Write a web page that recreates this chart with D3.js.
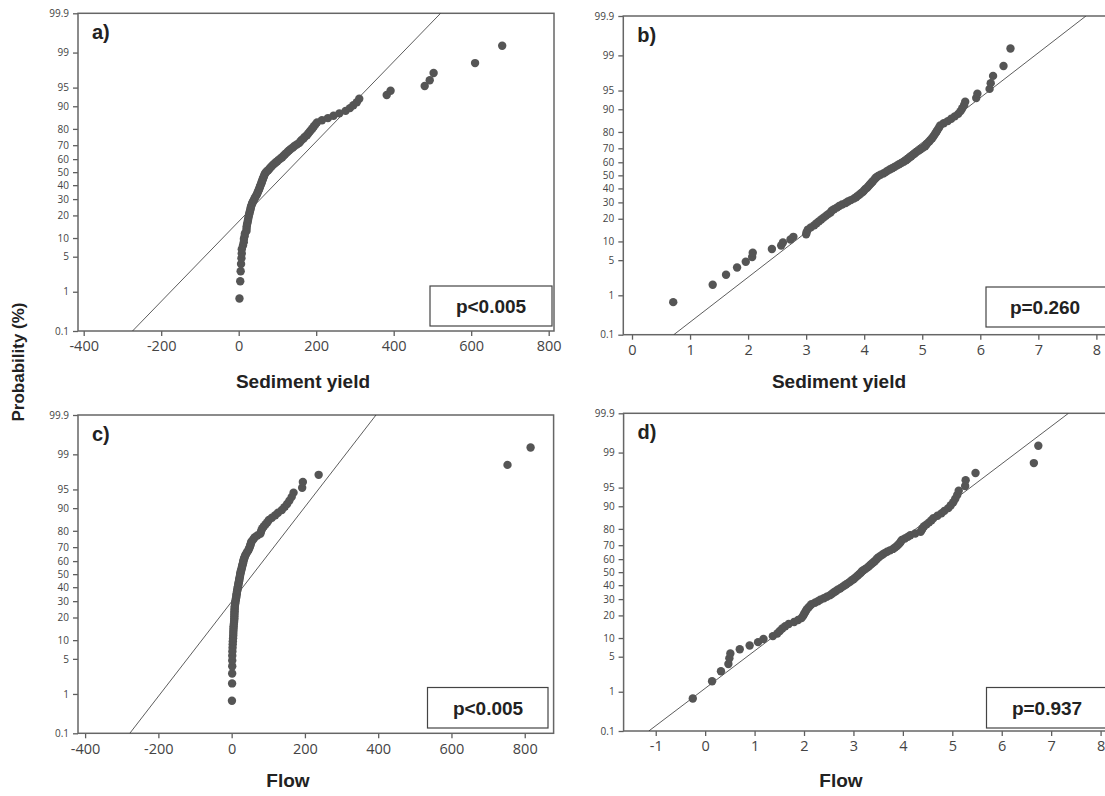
<!DOCTYPE html>
<meta charset="utf-8">
<style>
    body {
        margin: 0;
        background: #fff;
    }
    svg {
        display: block;
    }
    .axis path {
        display: none;
    }
    .axis line {
        stroke: #5e5e5e;
        stroke-width: 1.3;
    }
    .axis text {
        fill: #444;
        font-family: "Open Sans", sans-serif;
    }
    .frame {
        fill: none;
        stroke: #666;
        stroke-width: 1.5;
    }
    .title {
        font-family: "Liberation Sans", Arial, sans-serif;
        font-weight: bold;
        fill: #222;
    }
</style>

<body>
<script src="https://cdnjs.cloudflare.com/ajax/libs/d3/7.8.5/d3.min.js"></script>
<script>
    // probability axis ticks (%)
    var probTicks = [0.1, 1, 5, 10, 20, 30, 40, 50, 60, 70, 80, 90, 95, 99, 99.9];

    // sorted samples (100 values each)
    var sedimentYield = [2.0, 4.0, 5.1, 6.1, 7.1, 7.9, 8.0, 11.1, 13.1, 13.5,
        15.3, 16.1, 20.1, 20.3, 20.7, 21.8, 23.1, 24.0, 25.0, 26.0,
        27.1, 28.2, 29.4, 30.6, 31.2, 32.5, 34.1, 35.5, 37.3, 39.6,
        41.3, 43.4, 45.6, 47.5, 48.9, 50.4, 51.9, 53.5, 54.6, 55.7,
        57.4, 58.6, 59.7, 60.9, 62.2, 63.4, 64.7, 66.0, 67.4, 69.4,
        72.2, 76.0, 79.0, 81.5, 84.8, 88.2, 91.8, 95.6, 99.5, 103.5,
        107.8, 112.2, 115.6, 119.1, 122.7, 126.5, 130.3, 134.3, 139.8, 144.0,
        149.9, 156.0, 159.2, 162.4, 167.3, 170.7, 176.0, 179.5, 183.1, 186.8,
        190.6, 194.4, 198.3, 202.3, 214.9, 230.4, 244.7, 259.8, 275.9, 287.1,
        295.9, 304.9, 311.1, 382, 392, 480, 493, 503, 610, 680];

    var logSedimentYield = [0.71, 1.39, 1.62, 1.81, 1.96, 2.07, 2.08, 2.41, 2.57, 2.60,
        2.73, 2.78, 3.00, 3.01, 3.03, 3.08, 3.14, 3.18, 3.22, 3.26,
        3.30, 3.34, 3.38, 3.42, 3.44, 3.48, 3.53, 3.57, 3.62, 3.68,
        3.72, 3.77, 3.82, 3.86, 3.89, 3.92, 3.95, 3.98, 4.00, 4.02,
        4.05, 4.07, 4.09, 4.11, 4.13, 4.15, 4.17, 4.19, 4.21, 4.24,
        4.28, 4.33, 4.37, 4.40, 4.44, 4.48, 4.52, 4.56, 4.60, 4.64,
        4.68, 4.72, 4.75, 4.78, 4.81, 4.84, 4.87, 4.90, 4.94, 4.97,
        5.01, 5.05, 5.07, 5.09, 5.12, 5.14, 5.17, 5.19, 5.21, 5.23,
        5.25, 5.27, 5.29, 5.31, 5.37, 5.44, 5.50, 5.56, 5.62, 5.66,
        5.69, 5.72, 5.74, 5.93, 5.95, 6.16, 6.18, 6.22, 6.40, 6.52];

    var flow = [0.8, 1.2, 1.4, 1.6, 1.6, 1.7, 2.0, 2.5, 2.9, 3.3,
        3.9, 4.3, 4.5, 4.8, 5.1, 5.4, 6.1, 6.6, 7.0, 7.2,
        7.4, 7.5, 7.7, 7.9, 8.1, 8.3, 8.6, 9.2, 9.8, 10.3,
        11.0, 11.7, 12.4, 12.9, 13.5, 14.0, 14.6, 15.3, 16.0, 16.6,
        17.3, 18.0, 18.7, 19.3, 20.1, 20.7, 21.3, 22.0, 22.7, 23.3,
        23.8, 24.5, 25.5, 26.6, 27.4, 28.2, 29.1, 30.0, 30.9, 31.8,
        32.5, 33.5, 34.8, 36.2, 37.7, 39.7, 42.1, 44.7, 46.5, 48.4,
        49.9, 51.4, 52.5, 53.5, 56.8, 60.3, 63.4, 70.1, 78.3, 79.8,
        81.5, 83.9, 88.2, 92.8, 97.5, 101.5, 109.9, 119.1, 126.5, 137.0,
        144.0, 151.4, 157.6, 164.0, 169.0, 192.5, 194.4, 237.5, 753, 816];

    var logFlow = [-0.25, 0.14, 0.32, 0.47, 0.49, 0.51, 0.70, 0.90, 1.07, 1.18,
        1.37, 1.46, 1.51, 1.56, 1.62, 1.69, 1.80, 1.88, 1.95, 1.98,
        2.00, 2.02, 2.04, 2.06, 2.09, 2.12, 2.15, 2.22, 2.28, 2.33,
        2.40, 2.46, 2.52, 2.56, 2.60, 2.64, 2.68, 2.73, 2.77, 2.81,
        2.85, 2.89, 2.93, 2.96, 3.00, 3.03, 3.06, 3.09, 3.12, 3.15,
        3.17, 3.20, 3.24, 3.28, 3.31, 3.34, 3.37, 3.40, 3.43, 3.46,
        3.48, 3.51, 3.55, 3.59, 3.63, 3.68, 3.74, 3.80, 3.84, 3.88,
        3.91, 3.94, 3.96, 3.98, 4.04, 4.10, 4.15, 4.25, 4.36, 4.38,
        4.40, 4.43, 4.48, 4.53, 4.58, 4.62, 4.70, 4.78, 4.84, 4.92,
        4.97, 5.02, 5.06, 5.10, 5.13, 5.26, 5.27, 5.47, 6.65, 6.74];

    // fitted normal line: x at 0.1% and at 99.9%
    var fitLow = [-274, 0.72, -278, -1.14];
    var fitHigh = [521, 7.82, 394, 7.35];

    var pLabels = ["p<0.005", "p=0.260", "p<0.005", "p=0.937"];
    var panelLetters = ["a)", "b)", "c)", "d)"];
    var xTitles = ["Sediment yield", "Sediment yield", "Flow", "Flow"];
    var xTicksRaw = [-400, -200, 0, 200, 400, 600, 800];
    var xTicksLogSed = [0, 1, 2, 3, 4, 5, 6, 7, 8];
    var xTicksLogFlow = [-1, 0, 1, 2, 3, 4, 5, 6, 7, 8];

    // inverse normal cdf (Acklam)
    function probit(p) {
        var a = [-39.6968302866538, 220.946098424521, -275.928510446969, 138.357751867269, -30.6647980661472, 2.50662827745924],
            b = [-54.4760987982241, 161.585836858041, -155.698979859887, 66.8013118877197, -13.2806815528857],
            c = [-0.00778489400243029, -0.322396458041136, -2.40075827716184, -2.54973253934373, 4.37466414146497, 2.93816398269878],
            d = [0.00778469570904146, 0.32246712907004, 2.445134137143, 3.75440866190742],
            q, r;
        if (p < 0.02425) {
            q = Math.sqrt(-2 * Math.log(p));
            return (((((c[0] * q + c[1]) * q + c[2]) * q + c[3]) * q + c[4]) * q + c[5]) /
                ((((d[0] * q + d[1]) * q + d[2]) * q + d[3]) * q + 1);
        }
        if (p > 1 - 0.02425) return -probit(1 - p);
        q = p - 0.5;
        r = q * q;
        return (((((a[0] * r + a[1]) * r + a[2]) * r + a[3]) * r + a[4]) * r + a[5]) * q /
            (((((b[0] * r + b[1]) * r + b[2]) * r + b[3]) * r + b[4]) * r + 1);
    }

    var zMax = probit(0.999);

    var panels = [
        {values: sedimentYield, ticks: xTicksRaw, left: 78, right: 554, top: 13.3, bottom: 331,
            xDomain: [-414.7, 813.7], box: [430, 286, 122, 40], textX: 491, titleX: 303, titleY: 388},
        {values: logSedimentYield, ticks: xTicksLogSed, left: 623.3, right: 1108, top: 16, bottom: 334.7,
            xDomain: [-0.15, 8.2], box: [986, 287, 130, 40], textX: 1045, titleX: 839, titleY: 388},
        {values: flow, ticks: xTicksRaw, left: 78, right: 553.6, top: 415, bottom: 733.3,
            xDomain: [-419.4, 878.8], box: [427.5, 687.5, 120.5, 40.5], textX: 488, titleX: 288, titleY: 787},
        {values: logFlow, ticks: xTicksLogFlow, left: 623.6, right: 1108, top: 413.3, bottom: 731,
            xDomain: [-1.65, 8.15], box: [986.5, 687.5, 130, 40.5], textX: 1047, titleX: 841, titleY: 787}
    ];

    var svg = d3.select("body").append("svg")
        .attr("width", 1105)
        .attr("height", 796);

    panels.forEach(function(p, k) {
        var x = d3.scaleLinear().domain(p.xDomain).range([p.left, p.right]);
        var y = d3.scaleLinear().domain([-zMax, zMax]).range([p.bottom, p.top]);
        var n = p.values.length;
        var g = svg.append("g");

        g.append("clipPath").attr("id", "clip" + k)
            .append("rect")
            .attr("x", p.left).attr("y", p.top)
            .attr("width", p.right - p.left).attr("height", p.bottom - p.top);

        // y axis with probability labels
        g.append("g")
            .attr("class", "axis")
            .attr("transform", "translate(" + p.left + ",0)")
            .call(d3.axisLeft(y)
                .tickValues(probTicks.map(function(t) { return probit(t / 100); }))
                .tickFormat(function(z, i) { return String(probTicks[i]); })
                .tickSize(5)
                .tickPadding(4))
            .selectAll("text").style("font-size", "10px");

        g.append("g")
            .attr("class", "axis")
            .attr("transform", "translate(0," + p.bottom + ")")
            .call(d3.axisBottom(x)
                .tickValues(p.ticks)
                .tickFormat(function(v) { return String(v); })
                .tickSize(5)
                .tickPadding(5))
            .selectAll("text").style("font-size", "14.5px");

        g.append("rect").attr("class", "frame")
            .attr("x", p.left).attr("y", p.top)
            .attr("width", p.right - p.left).attr("height", p.bottom - p.top);

        // fitted line
        g.append("path")
            .datum([[fitLow[k], -zMax], [fitHigh[k], zMax]])
            .attr("clip-path", "url(#clip" + k + ")")
            .attr("fill", "none")
            .attr("stroke", "#333")
            .attr("stroke-width", 0.8)
            .attr("d", d3.line().x(function(d) { return x(d[0]); }).y(function(d) { return y(d[1]); }));

        // points at median-rank plotting positions
        g.append("g").selectAll("circle")
            .data(p.values)
            .enter().append("circle")
            .attr("cx", function(d) { return x(d); })
            .attr("cy", function(d, i) { return y(probit((i + 1 - 0.3) / (n + 0.4))); })
            .attr("r", 4.2)
            .attr("fill", "#555");

        g.append("text").attr("class", "title")
            .attr("x", p.left + 14).attr("y", p.top + 26)
            .style("font-size", "20px")
            .text(panelLetters[k]);

        g.append("rect")
            .attr("x", p.box[0]).attr("y", p.box[1])
            .attr("width", p.box[2]).attr("height", p.box[3])
            .attr("fill", "#fff").attr("stroke", "#444").attr("stroke-width", 1.2);

        g.append("text").attr("class", "title")
            .attr("x", p.textX).attr("y", p.box[1] + 27)
            .attr("text-anchor", "middle")
            .style("font-size", "19px")
            .text(pLabels[k]);

        g.append("text").attr("class", "title")
            .attr("x", p.titleX).attr("y", p.titleY)
            .attr("text-anchor", "middle")
            .style("font-size", "19px")
            .text(xTitles[k]);
    });

    svg.append("text").attr("class", "title")
        .attr("transform", "translate(24,362) rotate(-90)")
        .attr("text-anchor", "middle")
        .style("font-size", "17px")
        .text("Probability (%)");
</script>
</body>
